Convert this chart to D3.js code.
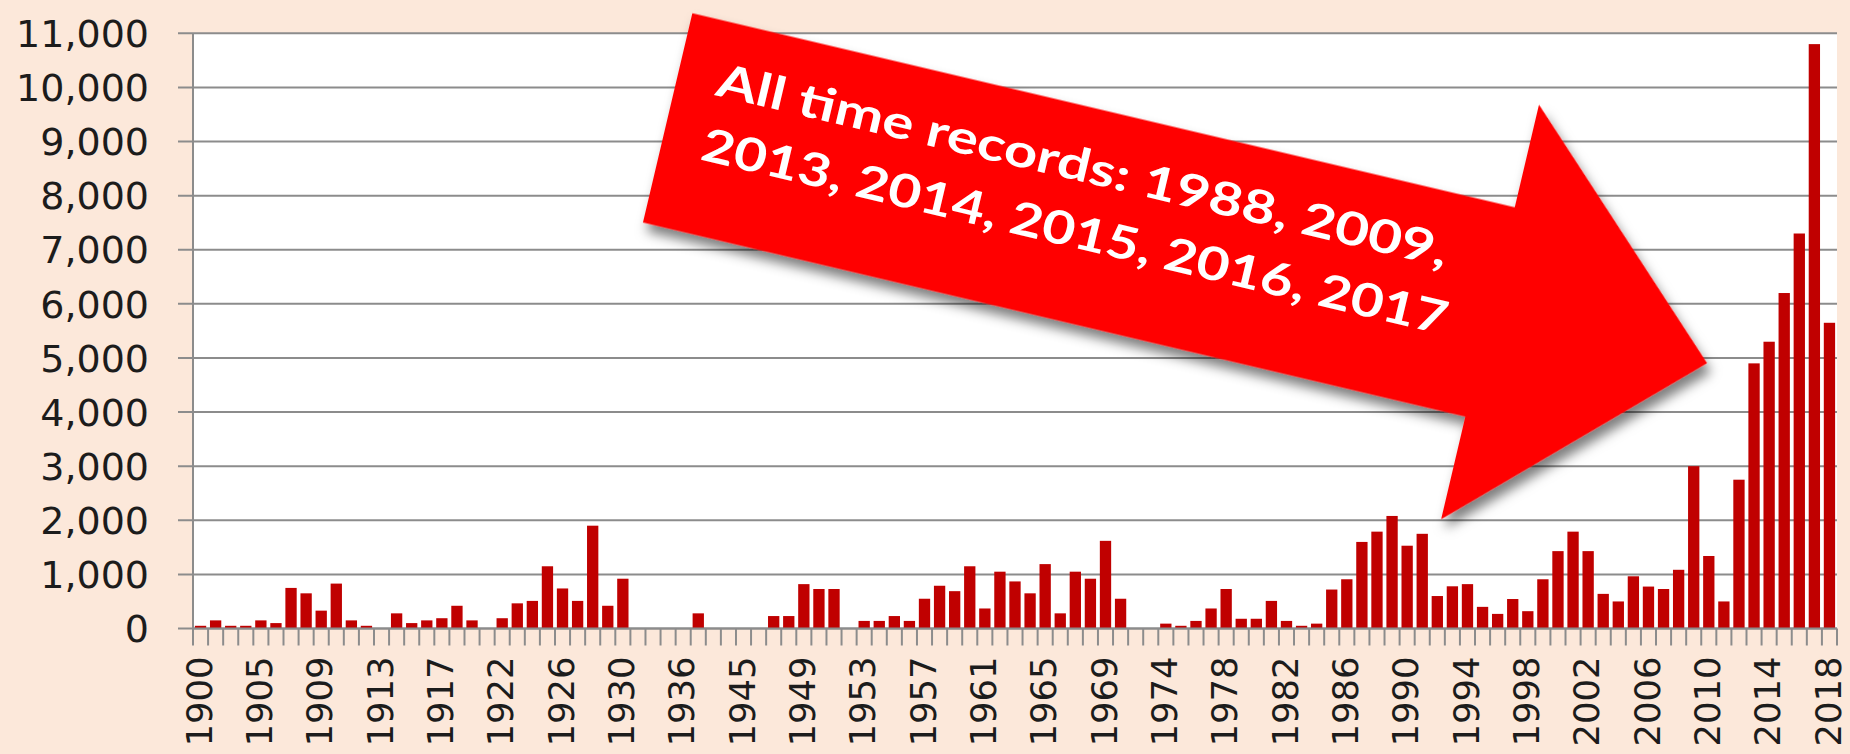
<!DOCTYPE html>
<html><head><meta charset="utf-8">
<script src="https://cdn.jsdelivr.net/npm/d3@7"></script>
<style>html,body{margin:0;padding:0;background:#FCE8DA;overflow:hidden}</style>
</head><body>
<svg id="c" width="1850" height="754"></svg>
<script>
// ---- data ----
const years = [
  1900,1901,1902,1903,1905,1906,1907,1908,1909,1910,1911,1912,1913,1914,1915,1916,
  1917,1918,1919,1920,1922,1923,1924,1925,1926,1927,1928,1929,1930,1931,1932,1934,
  1936,1937,1938,1939,1945,1946,1947,1948,1949,1950,1951,1952,1953,1954,1955,1956,
  1957,1958,1959,1960,1961,1962,1963,1964,1965,1966,1967,1968,1969,1970,1971,1972,
  1974,1975,1976,1977,1978,1979,1980,1981,1982,1983,1984,1985,1986,1987,1988,1989,
  1990,1991,1992,1993,1994,1995,1996,1997,1998,1999,2000,2001,2002,2003,2004,2005,
  2006,2007,2008,2009,2010,2011,2012,2013,2014,2015,2016,2017,2018
];
const values = [
  50,150,50,50,150,100,750,650,330,830,150,50,0,280,100,150,
  190,420,150,0,190,465,510,1150,740,510,1900,420,920,0,0,0,
  0,280,0,0,0,0,230,230,820,730,730,0,140,140,230,140,
  550,790,690,1150,370,1050,870,650,1190,280,1050,920,1620,550,0,0,
  90,50,140,370,730,180,180,510,140,50,90,720,910,1600,1790,2080,
  1530,1750,600,780,820,400,270,545,320,910,1430,1790,1430,640,500,965,
  775,730,1085,3000,1340,500,2750,4900,5300,6200,7300,10800,5650
];
const yTicks = [0,1000,2000,3000,4000,5000,6000,7000,8000,9000,10000,11000];
const labelEvery = 4;
const noteLines = ["All time records: 1988, 2009,", "2013, 2014, 2015, 2016, 2017"];

// ---- layout ----
const L = 193, R = 1837, T = 33.3, B = 628.5;
const svg = d3.select("#c");

const x = d3.scaleBand().domain(years.map(String)).range([L, R])
  .paddingInner(0.25).paddingOuter(0.125);
const y = d3.scaleLinear().domain([0, 11000]).range([B, T]);

svg.append("rect").attr("x",0).attr("y",0).attr("width",1850).attr("height",754).attr("fill","#FCE8DA");
svg.append("rect").attr("x",L).attr("y",T).attr("width",R-L).attr("height",B-T).attr("fill","#fff");

// gridlines + y ticks
svg.append("g").selectAll("line").data(yTicks).join("line")
  .attr("x1", L-15).attr("x2", R).attr("y1", d=>y(d)).attr("y2", d=>y(d))
  .attr("stroke","#8c8c8c").attr("stroke-width",2);

// y labels
const fmt = d3.format(",");
svg.append("g").selectAll("text").data(yTicks).join("text")
  .attr("x", 149).attr("y", d=>y(d)).attr("dy","0.36em")
  .attr("text-anchor","end")
  .style("font-family","'DejaVu Sans', Verdana, sans-serif").style("font-size","38px")
  .attr("fill","#1c1c1c").text(d=>fmt(d));

// bars
svg.append("g").selectAll("rect").data(values).join("rect")
  .attr("x",(d,i)=>x(String(years[i]))).attr("width",x.bandwidth())
  .attr("y",d=>y(d)).attr("height",d=>y(0)-y(d))
  .attr("fill","#C00000");

// axes lines
svg.append("line").attr("x1",L).attr("x2",L).attr("y1",T).attr("y2",B)
  .attr("stroke","#8c8c8c").attr("stroke-width",2);
svg.append("line").attr("x1",L).attr("x2",R).attr("y1",B).attr("y2",B)
  .attr("stroke","#8c8c8c").attr("stroke-width",2);
// category boundary ticks
svg.append("g").selectAll("line").data(d3.range(years.length+1)).join("line")
  .attr("x1",i=>L+i*x.step()).attr("x2",i=>L+i*x.step())
  .attr("y1",B).attr("y2",B+17)
  .attr("stroke","#8c8c8c").attr("stroke-width",2);

// x labels
svg.append("g").selectAll("text").data(years.filter((d,i)=>i%labelEvery===0)).join("text")
  .attr("transform", d=>`translate(${x(String(d))+x.bandwidth()/2-1.5},656.5) rotate(-90)`)
  .attr("dy","0.36em").attr("text-anchor","end")
  .style("font-family","'DejaVu Sans', Verdana, sans-serif").style("font-size","35.4px")
  .attr("fill","#1c1c1c").text(d=>d);

// ---- annotation arrow ----
const defs = svg.append("defs");
const f = defs.append("filter").attr("id","sh").attr("x","-20%").attr("y","-30%").attr("width","140%").attr("height","160%");
f.append("feDropShadow").attr("dx",6).attr("dy",8).attr("stdDeviation",6)
  .attr("flood-color","#000").attr("flood-opacity",0.5);

const ag = svg.append("g").attr("transform","translate(667.65,117.85) rotate(13.28)");
const bodyH = 107.6, baseU = 845, headH = 213, tipU = 1068;
ag.append("polygon")
  .attr("points",[[0,-bodyH],[baseU,-bodyH],[baseU,-headH],[tipU,0],[baseU,headH],[baseU,bodyH],[0,bodyH]].map(p=>p.join(",")).join(" "))
  .attr("fill","#FF0000").attr("filter","url(#sh)");
const lens = [750, 765];
ag.selectAll("text.note").data(noteLines).join("text").attr("class","note")
  .attr("x",40).attr("y",(d,i)=> i===0 ? -33 : 33)
  .attr("textLength",(d,i)=>lens[i]).attr("lengthAdjust","spacingAndGlyphs")
  .style("font-family","Lato, 'Open Sans', sans-serif").style("font-weight","700").style("font-size","46px")
  .attr("fill","#fff").text(d=>d);
</script>
</body></html>
